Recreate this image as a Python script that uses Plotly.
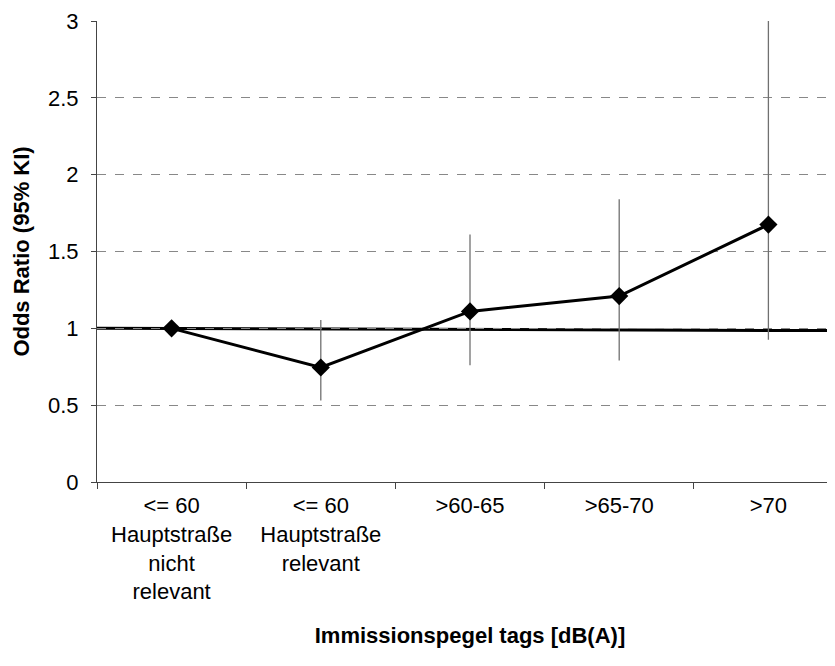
import plotly.graph_objects as go

categories = ["<= 60<br>Hauptstraße<br>nicht<br>relevant",
              "<= 60<br>Hauptstraße<br>relevant",
              ">60-65", ">65-70", ">70"]
odds_ratio = [1.0, 0.745, 1.11, 1.21, 1.675]
ci_lower = [1.0, 0.53, 0.76, 0.79, 0.925]
ci_upper = [1.0, 1.055, 1.61, 1.84, 3.3]
ref_line = [1.0, 0.985]
y_ticks = [0, 0.5, 1, 1.5, 2, 2.5, 3]
y_tick_labels = ["0", "0.5", "1", "1.5", "2", "2.5", "3"]

err_plus = [u - v for u, v in zip(ci_upper, odds_ratio)]
err_minus = [v - l for v, l in zip(odds_ratio, ci_lower)]

FONT = "Liberation Sans, Arial, sans-serif"

fig = go.Figure()
fig.add_trace(go.Scatter(
    x=categories, y=odds_ratio, mode="lines+markers",
    line=dict(color="black", width=3),
    marker=dict(symbol="diamond", size=14, color="black"),
    error_y=dict(type="data", symmetric=False, array=err_plus,
                 arrayminus=err_minus, color="#707070", thickness=1.3, width=0),
    showlegend=False, cliponaxis=True,
))

fig.add_shape(type="line", xref="paper", yref="y", x0=0, x1=1,
              y0=ref_line[0], y1=ref_line[1],
              line=dict(color="black", width=3), layer="below")

fig.update_layout(
    width=838, height=666,
    margin=dict(l=89, r=3, t=13, b=192, autoexpand=False),
    paper_bgcolor="white", plot_bgcolor="white",
    font=dict(family=FONT, size=22, color="black"),
)
fig.update_xaxes(
    type="category", range=[-0.5, 4.5], tickson="boundaries", automargin=False,
    ticks="outside", ticklen=6, tickcolor="#444", showline=True,
    linecolor="#444", linewidth=1, showgrid=False, zeroline=False,
    tickfont=dict(size=22, family=FONT), ticklabelstandoff=4,
    title=dict(text="<b>Immissionspegel tags [dB(A)]</b>",
               font=dict(size=22, family=FONT), standoff=24),
)
fig.update_yaxes(
    range=[0, 3], tickvals=y_ticks, ticktext=y_tick_labels, automargin=False,
    ticks="outside", ticklen=5, tickcolor="#444", showline=True,
    linecolor="#444", linewidth=1, ticklabeloverflow="allow",
    showgrid=True, gridcolor="#888", griddash="dash", gridwidth=1,
    zeroline=False, tickfont=dict(size=22, family=FONT), ticklabelstandoff=8,
    title=dict(text="<b>Odds Ratio (95% KI)</b>",
               font=dict(size=22, family=FONT), standoff=12),
)

fig.write_html("out.html")
